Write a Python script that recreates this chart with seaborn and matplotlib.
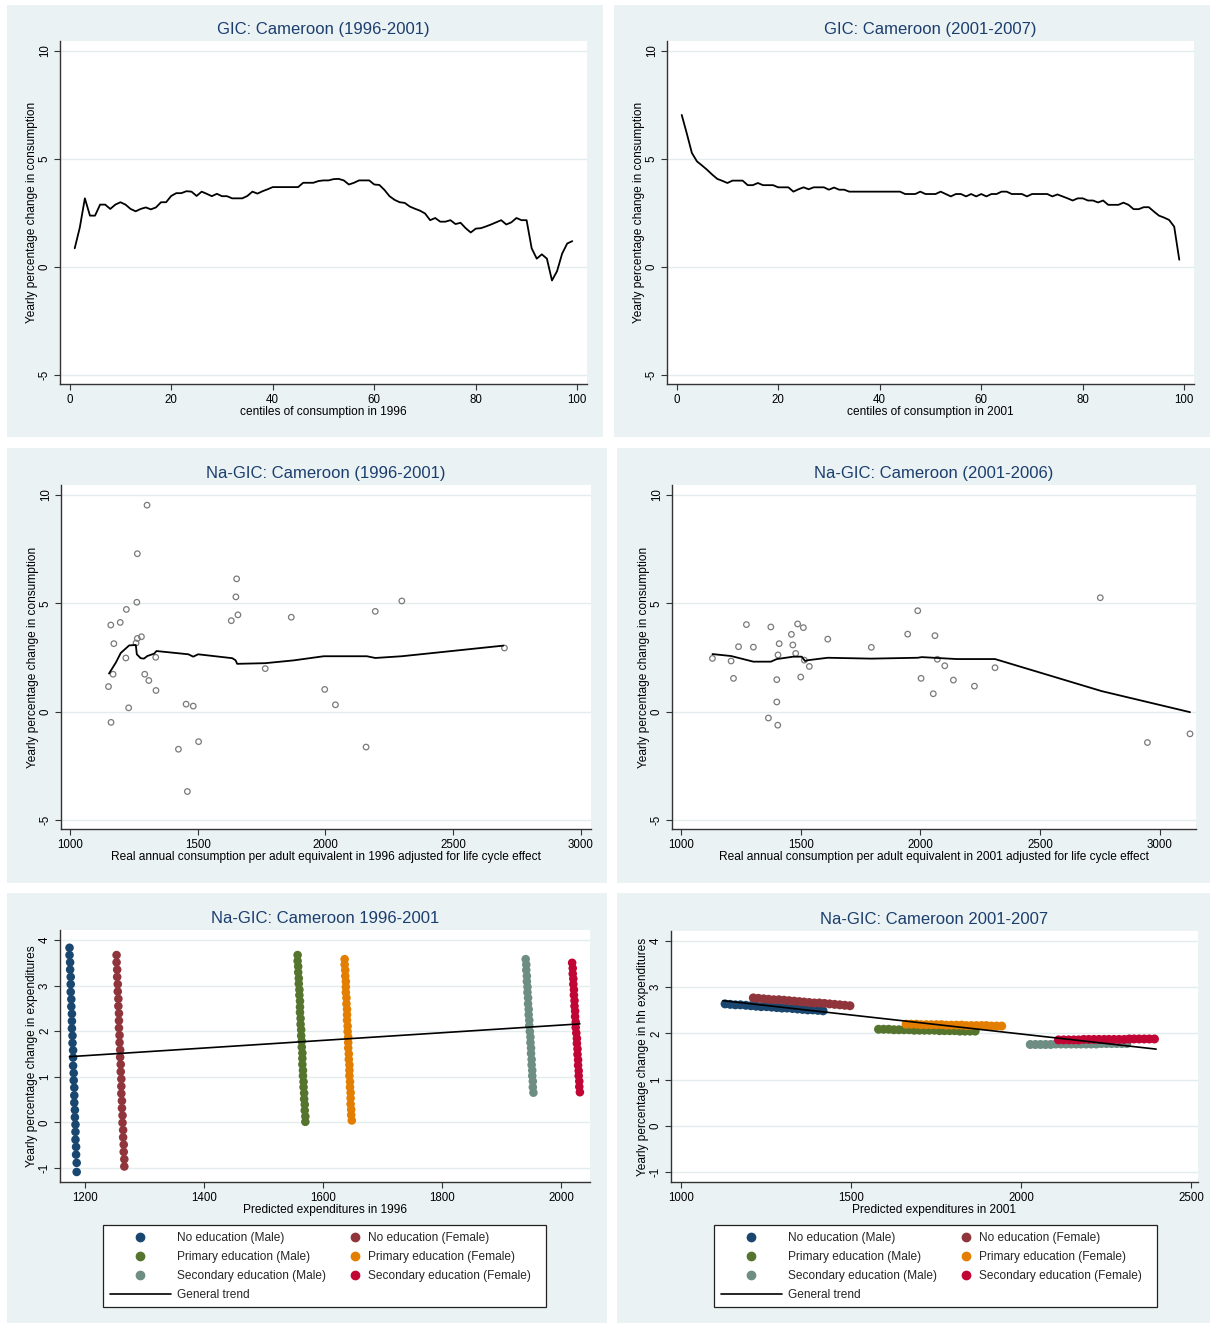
import numpy as np
import pandas as pd
import matplotlib
matplotlib.use("Agg")
import matplotlib.pyplot as plt
from matplotlib.patches import Rectangle
from matplotlib.lines import Line2D
import seaborn as sns

sns.set_theme(style="white")
plt.rcParams['font.family'] = ['Liberation Sans', 'DejaVu Sans']
plt.rcParams['axes.unicode_minus'] = False

W, H = 1210, 1323

# ---------------- DATA ----------------
centiles = list(range(1, 100))
gic_9601 = [0.87, 1.83, 3.18, 2.38, 2.38, 2.89, 2.89, 2.69, 2.89, 3.00,
            2.89, 2.69, 2.58, 2.69, 2.76, 2.67, 2.76, 3.00, 3.00, 3.29,
            3.42, 3.42, 3.51, 3.49, 3.29, 3.49, 3.39, 3.28, 3.39, 3.28,
            3.28, 3.18, 3.18, 3.18, 3.29, 3.49, 3.40, 3.51, 3.60, 3.70,
            3.70, 3.70, 3.70, 3.70, 3.70, 3.90, 3.90, 3.90, 3.98, 4.01,
            4.01, 4.07, 4.08, 4.01, 3.82, 3.90, 4.01, 4.01, 4.01, 3.82,
            3.80, 3.57, 3.28, 3.11, 3.00, 2.97, 2.80, 2.70, 2.61, 2.48,
            2.17, 2.27, 2.10, 2.10, 2.17, 1.99, 2.05, 1.80, 1.60, 1.78,
            1.80, 1.88, 1.97, 2.07, 2.17, 1.97, 2.07, 2.27, 2.17, 2.17,
            0.87, 0.39, 0.59, 0.39, -0.62, -0.19, 0.62, 1.09, 1.20]
gic_0107 = [7.04, 6.18, 5.28, 4.89, 4.70, 4.50, 4.28, 4.08, 3.99, 3.89,
            4.00, 4.00, 4.00, 3.79, 3.79, 3.89, 3.79, 3.79, 3.79, 3.69,
            3.69, 3.69, 3.49, 3.60, 3.69, 3.60, 3.69, 3.69, 3.69, 3.58,
            3.68, 3.58, 3.58, 3.49, 3.49, 3.49, 3.49, 3.49, 3.49, 3.49,
            3.49, 3.49, 3.49, 3.49, 3.38, 3.38, 3.38, 3.49, 3.38, 3.38,
            3.38, 3.49, 3.38, 3.27, 3.38, 3.38, 3.27, 3.38, 3.27, 3.38,
            3.27, 3.38, 3.38, 3.49, 3.49, 3.38, 3.38, 3.38, 3.27, 3.38,
            3.38, 3.38, 3.38, 3.27, 3.36, 3.27, 3.18, 3.08, 3.18, 3.18,
            3.08, 3.08, 2.99, 3.08, 2.88, 2.88, 2.88, 2.98, 2.88, 2.68,
            2.68, 2.77, 2.77, 2.57, 2.38, 2.29, 2.18, 1.87, 0.34]

na1_pts_x = [1301, 1263, 1261, 1220, 1159, 1196, 1263, 1279, 1258, 1171, 1218, 1335,
             1168, 1292, 1308, 1150, 1336, 1229, 1160, 1454, 1482, 1503, 1424, 1459,
             1652, 1649, 1657, 1631, 1866, 1764, 1997, 2039, 2299, 2195, 2159, 2701]
na1_pts_y = [9.53, 7.29, 5.05, 4.72, 4.00, 4.12, 3.38, 3.46, 3.17, 3.14, 2.48, 2.51,
             1.73, 1.73, 1.44, 1.16, 0.98, 0.18, -0.49, 0.35, 0.26, -1.38, -1.73, -3.68,
             6.13, 5.30, 4.47, 4.20, 4.36, 1.99, 1.03, 0.32, 5.11, 4.63, -1.63, 2.94]
na1_line_x = [1152, 1179, 1198, 1231, 1257, 1261, 1276, 1289, 1302, 1329, 1338, 1463,
              1482, 1501, 1635, 1648, 1654, 1764, 1876, 1993, 2058, 2162, 2195, 2299, 2697]
na1_line_y = [1.76, 2.27, 2.71, 3.06, 3.08, 2.65, 2.47, 2.45, 2.57, 2.68, 2.80, 2.65,
              2.54, 2.65, 2.47, 2.37, 2.21, 2.24, 2.37, 2.56, 2.56, 2.56, 2.48, 2.56, 3.05]

na2_pts_x = [2752, 1989, 1273, 1375, 1487, 1511, 1461, 1947, 2061, 1240, 1302, 1410,
             1467, 1613, 1795, 1405, 1479, 1131, 1209, 1515, 1536, 2071, 2102, 2312,
             1219, 1400, 1500, 2003, 2138, 2226, 2054, 1400, 1365, 1404, 2949, 3127]
na2_pts_y = [5.26, 4.66, 4.02, 3.91, 4.05, 3.88, 3.57, 3.58, 3.51, 3.00, 2.98, 3.14,
             3.08, 3.35, 2.97, 2.62, 2.69, 2.46, 2.34, 2.38, 2.09, 2.42, 2.12, 2.03,
             1.54, 1.48, 1.60, 1.54, 1.46, 1.18, 0.83, 0.45, -0.29, -0.62, -1.42, -1.02]
na2_line_x = [1131, 1209, 1302, 1375, 1400, 1469, 1504, 1518, 1532, 1613, 1795, 1989,
              2006, 2152, 2312, 2758, 3127]
na2_line_y = [2.66, 2.57, 2.31, 2.31, 2.43, 2.54, 2.54, 2.34, 2.38, 2.49, 2.45, 2.49,
              2.52, 2.43, 2.43, 0.95, -0.02]

groups = ["No education (Male)", "No education (Female)",
          "Primary education (Male)", "Primary education (Female)",
          "Secondary education (Male)", "Secondary education (Female)"]

# Na-GIC 1996-2001 by group
g96_x = {
    groups[0]: [1174, 1174, 1175, 1175, 1176, 1176, 1176, 1177, 1177, 1178, 1178, 1178, 1179, 1179, 1180, 1180,
                1180, 1181, 1181, 1182, 1182, 1182, 1183, 1183, 1184, 1184, 1184, 1185, 1185, 1186, 1186],
    groups[1]: [1253, 1253, 1254, 1254, 1255, 1255, 1256, 1256, 1257, 1257, 1257, 1258, 1258, 1259, 1259,
                1260, 1260, 1261, 1261, 1261, 1262, 1262, 1263, 1263, 1264, 1264, 1265, 1265, 1266, 1266],
    groups[2]: [1557, 1557, 1558, 1558, 1559, 1559, 1560, 1560, 1561, 1561, 1561, 1562, 1562, 1563, 1563,
                1564, 1564, 1565, 1565, 1565, 1566, 1566, 1567, 1567, 1568, 1568, 1569, 1569, 1570, 1570],
    groups[3]: [1636, 1636, 1637, 1637, 1638, 1638, 1638, 1639, 1639, 1640, 1640, 1640, 1641, 1641, 1642,
                1642, 1642, 1643, 1643, 1644, 1644, 1644, 1645, 1645, 1646, 1646, 1646, 1647, 1647, 1648],
    groups[4]: [1940, 1941, 1941, 1942, 1942, 1943, 1943, 1944, 1944, 1945, 1945, 1946, 1946, 1947, 1948,
                1948, 1949, 1949, 1950, 1950, 1951, 1951, 1952, 1952, 1953],
    groups[5]: [2018, 2019, 2019, 2020, 2020, 2021, 2021, 2022, 2022, 2023, 2023, 2024, 2024, 2025, 2026,
                2026, 2027, 2027, 2028, 2028, 2029, 2029, 2030, 2030, 2031],
}
g96_y = {
    groups[0]: [3.83, 3.67, 3.51, 3.35, 3.19, 3.03, 2.86, 2.70, 2.54, 2.38, 2.22, 2.06, 1.90, 1.74, 1.58, 1.42,
                1.24, 1.08, 0.92, 0.76, 0.59, 0.43, 0.27, 0.11, -0.05, -0.21, -0.38, -0.54, -0.71, -0.89, -1.09],
    groups[1]: [3.67, 3.51, 3.35, 3.19, 3.03, 2.87, 2.71, 2.55, 2.39, 2.23, 2.07, 1.91, 1.75, 1.59, 1.43,
                1.27, 1.11, 0.95, 0.79, 0.63, 0.47, 0.31, 0.15, -0.01, -0.17, -0.33, -0.49, -0.65, -0.81, -0.97],
    groups[2]: [3.67, 3.54, 3.42, 3.29, 3.16, 3.04, 2.91, 2.79, 2.66, 2.53, 2.41, 2.28, 2.15, 2.03, 1.90,
                1.78, 1.65, 1.52, 1.40, 1.27, 1.14, 1.02, 0.89, 0.77, 0.64, 0.51, 0.39, 0.26, 0.13, 0.01],
    groups[3]: [3.58, 3.46, 3.34, 3.21, 3.09, 2.97, 2.85, 2.73, 2.60, 2.48, 2.36, 2.24, 2.11, 1.99, 1.87,
                1.75, 1.63, 1.50, 1.38, 1.26, 1.14, 1.02, 0.89, 0.77, 0.65, 0.53, 0.40, 0.28, 0.16, 0.04],
    groups[4]: [3.58, 3.46, 3.34, 3.21, 3.09, 2.97, 2.85, 2.73, 2.60, 2.48, 2.36, 2.24, 2.12, 1.99, 1.87,
                1.75, 1.63, 1.51, 1.38, 1.26, 1.14, 1.02, 0.90, 0.77, 0.65],
    groups[5]: [3.50, 3.38, 3.26, 3.15, 3.03, 2.91, 2.79, 2.67, 2.55, 2.44, 2.32, 2.20, 2.08, 1.96, 1.84,
                1.73, 1.61, 1.49, 1.37, 1.25, 1.13, 1.02, 0.90, 0.78, 0.66],
}
trend96_x = [1174, 2031]
trend96_y = [1.44, 2.16]

# Na-GIC 2001-2007 by group
g01_x = {
    groups[0]: [1130, 1145, 1160, 1175, 1191, 1206, 1221, 1236, 1252, 1267, 1282, 1297, 1312, 1328, 1343,
                1358, 1373, 1388, 1403, 1418],
    groups[1]: [1213, 1228, 1243, 1258, 1273, 1288, 1303, 1318, 1333, 1348, 1362, 1377, 1392, 1407, 1422,
                1437, 1452, 1467, 1482, 1497],
    groups[2]: [1581, 1596, 1611, 1626, 1641, 1656, 1671, 1686, 1701, 1716, 1730, 1745, 1760, 1775, 1790,
                1805, 1820, 1835, 1850, 1865],
    groups[3]: [1662, 1677, 1692, 1706, 1721, 1736, 1751, 1766, 1780, 1795, 1810, 1825, 1839, 1854, 1869,
                1884, 1898, 1913, 1928, 1943],
    groups[4]: [2027, 2042, 2057, 2072, 2087, 2102, 2117, 2132, 2147, 2162, 2176, 2191, 2206, 2221, 2236,
                2251, 2266, 2281, 2296, 2311],
    groups[5]: [2110, 2125, 2140, 2155, 2169, 2184, 2199, 2214, 2229, 2244, 2258, 2273, 2288, 2303, 2318,
                2332, 2347, 2362, 2377, 2392],
}
g01_y = {
    groups[0]: [2.64, 2.63, 2.62, 2.62, 2.61, 2.60, 2.59, 2.58, 2.58, 2.57, 2.56, 2.55, 2.55, 2.54, 2.53,
                2.52, 2.51, 2.51, 2.50, 2.49],
    groups[1]: [2.77, 2.76, 2.75, 2.74, 2.73, 2.73, 2.72, 2.71, 2.70, 2.69, 2.68, 2.67, 2.66, 2.66, 2.65,
                2.64, 2.63, 2.62, 2.61, 2.60],
    groups[2]: [2.09, 2.09, 2.09, 2.08, 2.08, 2.08, 2.08, 2.07, 2.07, 2.07, 2.07, 2.07, 2.06, 2.06, 2.06,
                2.06, 2.05, 2.05, 2.05, 2.05],
    groups[3]: [2.20, 2.20, 2.20, 2.19, 2.19, 2.19, 2.19, 2.19, 2.18, 2.18, 2.18, 2.18, 2.17, 2.17, 2.17,
                2.17, 2.17, 2.16, 2.16, 2.16],
    groups[4]: [1.76, 1.76, 1.76, 1.76, 1.76, 1.77, 1.77, 1.77, 1.77, 1.77, 1.77, 1.77, 1.77, 1.77, 1.78,
                1.78, 1.78, 1.78, 1.78, 1.78],
    groups[5]: [1.86, 1.86, 1.86, 1.86, 1.86, 1.87, 1.87, 1.87, 1.87, 1.87, 1.87, 1.87, 1.87, 1.87, 1.88,
                1.88, 1.88, 1.88, 1.88, 1.88],
}
trend01_x = [1124, 2397]
trend01_y = [2.71, 1.66]

palette = dict(zip(groups, ["#1A476F", "#90353B", "#55752F", "#E37E00", "#6E8E84", "#C10534"]))

# ---------------- STYLE ----------------
BG = "#EAF2F3"
GRID = "#E3ECEE"
AX = "#333333"
TITLE_C = "#1C3E6E"
TICK_FS = 8.3
LAB_FS = 8.6
TITLE_FS = 12
LEG_FS = 8.6

fig = plt.figure(figsize=(W / 100, H / 100), dpi=100)
fig.patch.set_facecolor("white")


def bg_rect(x0, y0, x1, y1):
    fig.patches.append(Rectangle((x0 / W, 1 - y1 / H), (x1 - x0) / W, (y1 - y0) / H,
                                 transform=fig.transFigure, facecolor=BG, edgecolor="none", zorder=-10))


def add_ax(l, t, r, b):
    return fig.add_axes([l / W, 1 - b / H, (r - l) / W, (b - t) / H])


def style(ax, xlim, ylim, xticks, yticks, title, xlabel, ylabel):
    ax.set_facecolor("white")
    ax.set_xlim(xlim)
    ax.set_ylim(ylim)
    ax.set_xticks(xticks)
    ax.set_xticklabels([str(v) for v in xticks], fontsize=TICK_FS)
    ax.set_yticks(yticks)
    ax.set_yticklabels([str(v) for v in yticks], fontsize=TICK_FS, rotation=90, va="center")
    ax.yaxis.grid(True, color=GRID, lw=1.0)
    ax.xaxis.grid(False)
    ax.set_axisbelow(True)
    for s in ["top", "right"]:
        ax.spines[s].set_visible(False)
    for s in ["left", "bottom"]:
        ax.spines[s].set_visible(True)
        ax.spines[s].set_color(AX)
        ax.spines[s].set_linewidth(1.0)
    ax.tick_params(axis="both", direction="out", length=4.5, width=0.8, color=AX,
                   labelcolor="black", bottom=True, left=True)
    ax.tick_params(axis="x", pad=2.5)
    ax.tick_params(axis="y", pad=2.0)
    ax.set_title(title, fontsize=TITLE_FS, color=TITLE_C, pad=5)
    ax.set_xlabel(xlabel, fontsize=LAB_FS, color="black", labelpad=0.5)
    ax.set_ylabel(ylabel, fontsize=LAB_FS, color="black", labelpad=0.5)


# panel backgrounds
bg_rect(7, 5, 603, 437)
bg_rect(614, 5, 1210, 437)
bg_rect(7, 448, 607, 883)
bg_rect(617, 448, 1210, 883)
bg_rect(7, 893, 607, 1323)
bg_rect(617, 893, 1210, 1323)

GIC_XLIM = (-1.9, 101.9)
GIC_YLIM = (-5.41, 10.46)
yt10 = [-5, 0, 5, 10]

# ---- Panel 1 ----
ax1 = add_ax(60, 41, 587, 384)
sns.lineplot(x=centiles, y=gic_9601, ax=ax1, color="black", lw=1.3, estimator=None, sort=False)
style(ax1, GIC_XLIM, GIC_YLIM, [0, 20, 40, 60, 80, 100], yt10,
      "GIC: Cameroon (1996-2001)", "centiles of consumption in 1996",
      "Yearly percentage change in consumption")

# ---- Panel 2 ----
ax2 = add_ax(667, 41, 1194, 384)
sns.lineplot(x=centiles, y=gic_0107, ax=ax2, color="black", lw=1.3, estimator=None, sort=False)
style(ax2, GIC_XLIM, GIC_YLIM, [0, 20, 40, 60, 80, 100], yt10,
      "GIC: Cameroon (2001-2007)", "centiles of consumption in 2001",
      "Yearly percentage change in consumption")

# ---- Panel 3 ----
ax3 = add_ax(61, 485, 591, 829)
sns.scatterplot(x=na1_pts_x, y=na1_pts_y, ax=ax3, marker="o", s=16,
                facecolor="none", edgecolor="#7a7a7a", linewidth=0.9)
sns.lineplot(x=na1_line_x, y=na1_line_y, ax=ax3, color="black", lw=1.3, estimator=None, sort=False)
style(ax3, (964, 3040), GIC_YLIM, [1000, 1500, 2000, 2500, 3000], yt10,
      "Na-GIC: Cameroon (1996-2001)",
      "Real annual consumption per adult equivalent in 1996 adjusted for life cycle effect",
      "Yearly percentage change in consumption")

# ---- Panel 4 ----
ax4 = add_ax(672, 485, 1196, 829)
sns.scatterplot(x=na2_pts_x, y=na2_pts_y, ax=ax4, marker="o", s=16,
                facecolor="none", edgecolor="#7a7a7a", linewidth=0.9)
sns.lineplot(x=na2_line_x, y=na2_line_y, ax=ax4, color="black", lw=1.3, estimator=None, sort=False)
style(ax4, (962, 3152), GIC_YLIM, [1000, 1500, 2000, 2500, 3000], yt10,
      "Na-GIC: Cameroon (2001-2006)",
      "Real annual consumption per adult equivalent in 2001 adjusted for life cycle effect",
      "Yearly percentage change in consumption")


def group_frame(xd, yd):
    rows = []
    for g in groups:
        for xv, yv in zip(xd[g], yd[g]):
            rows.append((g, xv, yv))
    return pd.DataFrame(rows, columns=["group", "x", "y"])


# ---- Panel 5 ----
ax5 = add_ax(60, 930, 590, 1182)
df96 = group_frame(g96_x, g96_y)
sns.scatterplot(data=df96, x="x", y="y", hue="group", hue_order=groups, palette=palette,
                ax=ax5, s=38, linewidth=0, legend=False, zorder=2)
sns.lineplot(x=trend96_x, y=trend96_y, ax=ax5, color="black", lw=1.2, estimator=None, sort=False, zorder=3)
style(ax5, (1158, 2048), (-1.31, 4.22), [1200, 1400, 1600, 1800, 2000], [-1, 0, 1, 2, 3, 4],
      "Na-GIC: Cameroon 1996-2001", "Predicted expenditures in 1996",
      "Yearly percentage change in expenditures")

# ---- Panel 6 ----
ax6 = add_ax(671, 931, 1198, 1182)
df01 = group_frame(g01_x, g01_y)
sns.scatterplot(data=df01, x="x", y="y", hue="group", hue_order=groups, palette=palette,
                ax=ax6, s=42, linewidth=0, legend=False, zorder=2)
sns.lineplot(x=trend01_x, y=trend01_y, ax=ax6, color="black", lw=1.2, estimator=None, sort=False, zorder=3)
style(ax6, (971, 2520), (-1.22, 4.22), [1000, 1500, 2000, 2500], [-1, 0, 1, 2, 3, 4],
      "Na-GIC: Cameroon 2001-2007", "Predicted expenditures in 2001",
      "Yearly percentage change in hh expenditures")


# ---- Legends ----
def mk(g):
    return Line2D([], [], marker="o", ls="", ms=6, color=palette[g])


def add_legend(x0):
    fig.patches.append(Rectangle(((x0 + 103) / W, 1 - 1307 / H), 443 / W, 82 / H,
                                 transform=fig.transFigure, facecolor="white",
                                 edgecolor="#222222", lw=0.9, zorder=1))
    col1_h = [mk(groups[0]), mk(groups[2]), mk(groups[4]),
              Line2D([], [], color="black", lw=1.2)]
    col1_l = [groups[0], groups[2], groups[4], "General trend"]
    col2_h = [mk(groups[1]), mk(groups[3]), mk(groups[5])]
    col2_l = [groups[1], groups[3], groups[5]]
    common = dict(loc="upper left", bbox_transform=fig.transFigure, frameon=False,
                  borderpad=0, borderaxespad=0, fontsize=LEG_FS, labelspacing=0.58,
                  numpoints=1)
    l1 = fig.legend(col1_h, col1_l, bbox_to_anchor=((x0 + 110) / W, 1 - 1232 / H),
                    handlelength=5.1, handletextpad=0.5, **common)
    l2 = fig.legend(col2_h, col2_l, bbox_to_anchor=((x0 + 344) / W, 1 - 1232 / H),
                    handlelength=1.8, handletextpad=0.25, **common)
    for lg in (l1, l2):
        lg.set_zorder(5)


add_legend(0)
add_legend(611)

fig.savefig("out.png", dpi=100, facecolor="white")
